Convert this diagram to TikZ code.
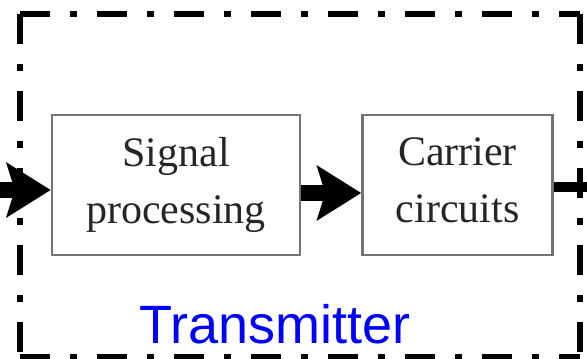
\documentclass[tikz,border=0pt]{standalone}
\usepackage{fontspec}
\setmainfont{Liberation Serif}
\setsansfont{Liberation Sans}
\usetikzlibrary{positioning,arrows.meta}

\begin{document}
\begin{tikzpicture}[
  x=1pt, y=-1pt,
  block/.style={draw=black!55, line width=2.5pt, fill=white, align=center,
                minimum width=248pt, minimum height=140pt, inner sep=0pt,
                text depth=9pt, font=\fontsize{42}{57}\selectfont, text=black!85},
  flow/.style={line width=16pt, -{Stealth[length=44pt, width=54pt, inset=8pt]}},
  frame/.style={line width=6.5pt, dash pattern=on 30pt off 20pt on 7pt off 20pt},
  title/.style={font=\sffamily\fontsize{54}{54}\selectfont, text=blue},
]
  \useasboundingbox (0,0) rectangle (587,359);
  \clip (0,0) rectangle (587,359);

  % dash-dot frame round the transmitter
  \coordinate (tl) at (20,14);
  \coordinate (tr) at (580,14);
  \coordinate (bl) at (20,357);
  \coordinate (br) at (580,357);
  \draw[frame] (tl) -- (tr);
  \draw[frame] (tl) -- (bl);
  \draw[frame] (tr) -- (br);
  \draw[frame] (bl) -- (br);

  % the two stages
  \node[block] (sp) at (176,185) {Signal\\processing};
  \node[block, minimum width=190pt, right=60pt of sp] (cc) {Carrier\\circuits};
  \node[title] (tx) at (275,324) {Transmitter};

  % signal path
  \coordinate (in) at (0,190);
  \coordinate (out) at (587,187);
  \draw[flow] (in) -- (in -| sp.west);
  \draw[flow] ([yshift=-8pt]sp.east) -- ([yshift=-8pt]cc.west);
  \draw[line width=10pt] (out -| cc.east) -- (out);
\end{tikzpicture}
\end{document}
